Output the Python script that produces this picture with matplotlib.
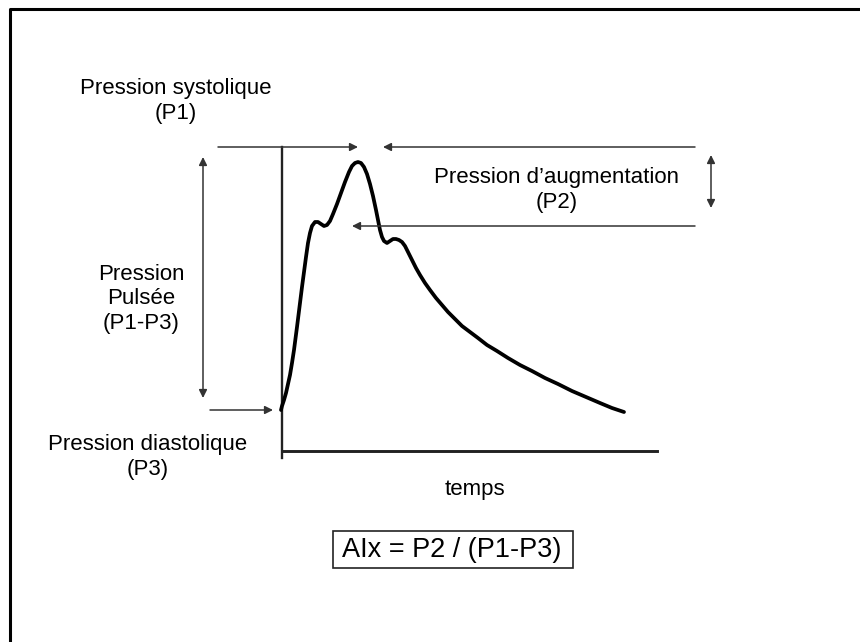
import matplotlib
matplotlib.use("Agg")
import matplotlib.pyplot as plt
from matplotlib.patches import Rectangle

plt.rcParams['font.family'] = ['Liberation Sans', 'DejaVu Sans']

# Pulse wave (pixel frame: x to the right, y downward)
curve_x = [281, 282, 284, 286, 288, 290, 292, 294, 297, 300, 302, 304, 306, 308, 310,
           312, 315, 318, 321, 324, 327, 330, 333, 337, 341, 345, 349, 352, 355, 358,
           361, 364, 367, 370, 373, 376, 378, 380, 382, 384, 387, 390, 393, 396, 399,
           402, 405, 408, 412, 416, 420, 425, 430, 436, 442, 448, 455, 462, 470, 478,
           487, 497, 508, 520, 532, 545, 558, 572, 586, 600, 612, 624]
curve_y = [410, 406, 400, 393, 384, 375, 363, 350, 327, 303, 287, 272, 257, 243, 233,
           226, 222, 222, 224, 226, 225, 221, 214, 204, 193, 182, 172, 166, 163, 162,
           163, 167, 174, 184, 196, 210, 220, 230, 237, 241, 243, 241, 239, 239, 240,
           242, 246, 252, 260, 268, 275, 283, 290, 298, 305, 312, 319, 326, 332, 338,
           345, 351, 358, 365, 371, 378, 384, 391, 397, 403, 408, 412]

labels = ["Pression systolique\n(P1)", "Pression d\u2019augmentation\n(P2)",
          "Pression\nPulsée\n(P1-P3)", "Pression diastolique\n(P3)", "temps"]
formula = "AIx = P2 / (P1-P3)"

fig = plt.figure(figsize=(8.6, 6.42), dpi=100)
ax = fig.add_axes([0, 0, 1, 1])
ax.set_xlim(0, 860)
ax.set_ylim(642, 0)
ax.axis('off')

# frame (top and left only)
ax.plot([10, 10, 860], [642, 9, 9], color='black', lw=2.2, solid_capstyle='butt')

# axes of the diagram
ax.plot([282, 282], [147, 458], color='#222222', lw=1.7)
ax.plot([282, 657], [451, 451], color='#222222', lw=2.1)

# pulse curve
ax.plot(curve_x, curve_y, color='black', lw=2.7, solid_capstyle='round', solid_joinstyle='round')

gray = '#333333'
def arrow(x0, y0, x1, y1, style='-|>'):
    ax.annotate('', xy=(x1, y1), xytext=(x0, y0),
                arrowprops=dict(arrowstyle=style, color=gray, lw=1.1,
                                mutation_scale=12, shrinkA=0, shrinkB=0))

arrow(218, 147, 358, 147)
arrow(695, 147, 383, 147)
arrow(695, 226, 352, 226)
arrow(203, 398, 203, 157, style='<|-|>')
arrow(711, 208, 711, 155, style='<|-|>')
arrow(210, 410, 273, 410)

fs = 16
ax.text(176, 101, labels[0], ha='center', va='center', fontsize=fs, linespacing=1.25)
ax.text(557, 190, labels[1], ha='center', va='center', fontsize=fs, linespacing=1.25)
ax.text(141, 299, labels[2], ha='center', va='center', fontsize=fs, linespacing=1.25)
ax.text(148, 457, labels[3], ha='center', va='center', fontsize=fs, linespacing=1.25)
ax.text(475, 490, labels[4], ha='center', va='center', fontsize=fs)

ax.add_patch(Rectangle((333, 531), 240, 37, fill=False, edgecolor='#222222', lw=1.2))
ax.text(452, 550, formula, ha='center', va='center', fontsize=19.5)

fig.savefig('out.png', dpi=100)
